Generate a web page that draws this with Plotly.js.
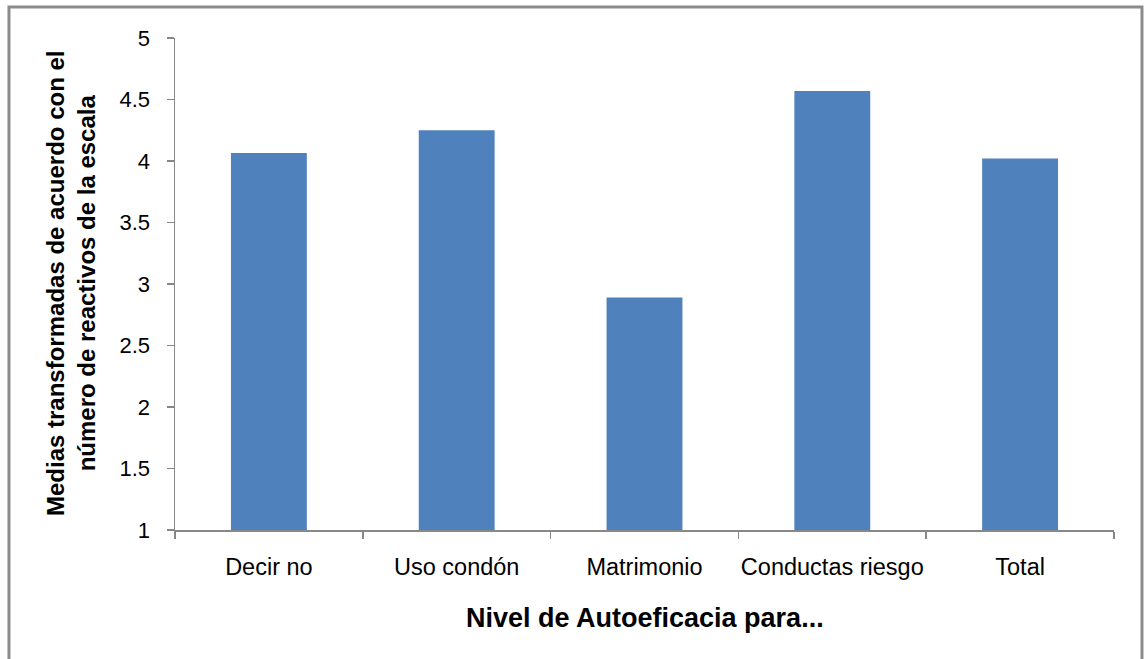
<!DOCTYPE html>
<html>
<head>
<meta charset="utf-8">
<script src="https://cdn.plot.ly/plotly-3.0.1.min.js"></script>
<style>
  html, body { margin: 0; padding: 0; background: #ffffff; }
  #chart { width: 1144px; height: 659px; }
</style>
</head>
<body>
<div id="chart"></div>
<script>
const categories = ["Decir no", "Uso condón", "Matrimonio", "Conductas riesgo", "Total"];
const means = [4.065, 4.25, 2.89, 4.57, 4.02];
const yTickValues = [1, 1.5, 2, 2.5, 3, 3.5, 4, 4.5, 5];
const yTickLabels = ["1", "1.5", "2", "2.5", "3", "3.5", "4", "4.5", "5"];
const xTitle = "Nivel de Autoeficacia para...";
const yTitle = "Medias transformadas de acuerdo con el<br>número de reactivos de la escala";

const FONT = "'Liberation Sans', Arial, Helvetica, sans-serif";
const AXIS_GRAY = "#888888";

const trace = {
  type: "bar",
  x: categories,
  y: means,
  base: 0,
  marker: { color: "#4f81bd", line: { width: 0 } },
  hoverinfo: "x+y"
};

const layout = {
  width: 1144,
  height: 659,
  margin: { l: 175, r: 30, t: 38, b: 129, pad: 0 },
  paper_bgcolor: "#ffffff",
  plot_bgcolor: "#ffffff",
  showlegend: false,
  bargap: 0.596,
  font: { family: FONT, color: "#000000" },
  xaxis: {
    type: "category",
    showgrid: false,
    zeroline: false,
    showline: true,
    linecolor: AXIS_GRAY,
    linewidth: 1.5,
    ticks: "outside",
    tickson: "boundaries",
    ticklen: 7,
    tickwidth: 1.5,
    tickcolor: AXIS_GRAY,
    tickangle: 0,
    ticklabelstandoff: 15,
    tickfont: { family: FONT, size: 23.5, color: "#000000" },
    fixedrange: true
  },
  yaxis: {
    range: [1, 5],
    tickvals: yTickValues,
    ticktext: yTickLabels,
    showgrid: false,
    zeroline: false,
    showline: true,
    linecolor: AXIS_GRAY,
    linewidth: 1.5,
    ticks: "outside",
    ticklen: 7,
    tickwidth: 1.5,
    tickcolor: AXIS_GRAY,
    ticklabelstandoff: 12,
    tickfont: { family: FONT, size: 22, color: "#000000" },
    fixedrange: true
  },
  annotations: [
    {
      text: "<b>" + xTitle + "</b>",
      xref: "paper", yref: "paper",
      x: 0.5, y: 0,
      xanchor: "center", yanchor: "middle",
      yshift: -88,
      showarrow: false,
      font: { family: FONT, size: 27, color: "#000000" }
    },
    {
      text: "<b>" + yTitle + "</b>",
      xref: "paper", yref: "paper",
      x: 0, y: 0.5,
      xanchor: "center", yanchor: "middle",
      xshift: -104,
      textangle: -90,
      showarrow: false,
      font: { family: FONT, size: 24, color: "#000000" }
    }
  ],
  shapes: [
    {
      type: "rect",
      xref: "paper", yref: "paper",
      x0: -0.1768, x1: 1.0298,
      y0: -0.27, y1: 1.063,
      line: { color: "#8c8c8c", width: 3 },
      fillcolor: "rgba(0,0,0,0)",
      layer: "below"
    }
  ]
};

Plotly.newPlot("chart", [trace], layout, { displayModeBar: false, staticPlot: true });
</script>
</body>
</html>
